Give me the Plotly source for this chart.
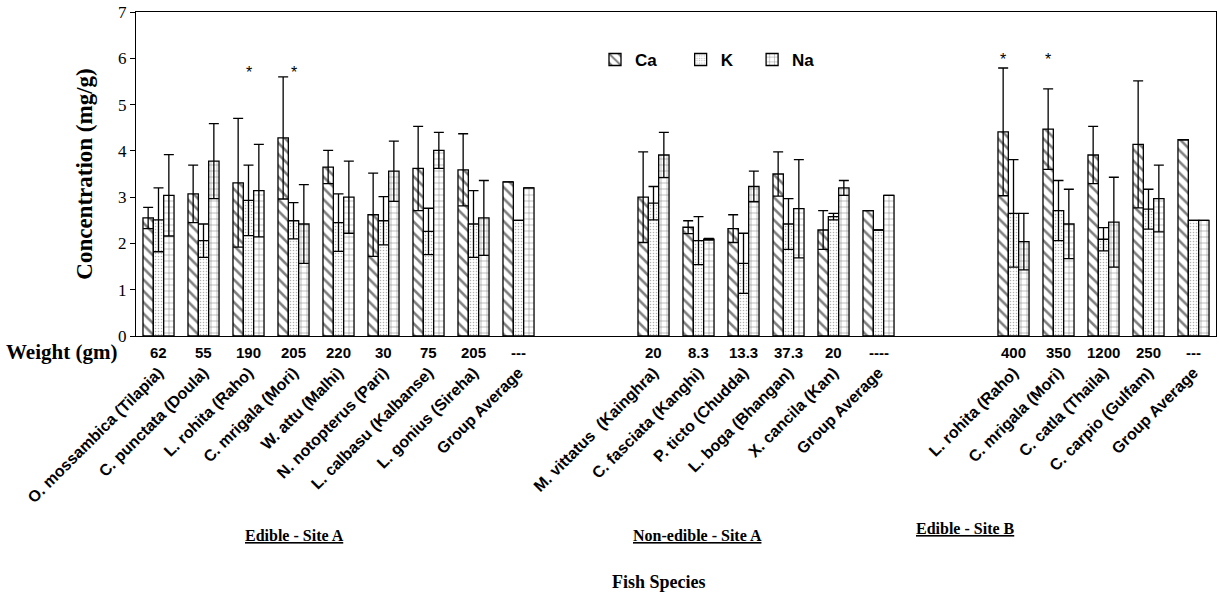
import plotly.graph_objects as go

# ---------------- data ----------------
species_A = ["O. mossambica (Tilapia)", "C. punctata (Doula)", "L. rohita (Raho)", "C. mrigala (Mori)",
             "W. attu (Malhi)", "N. notopterus (Pari)", "L. calbasu (Kalbanse)", "L. gonius (Sireha)", "Group Average"]
weight_A = ["62", "55", "190", "205", "220", "30", "75", "205", "---"]
ca_A = [2.55, 3.07, 3.31, 4.28, 3.65, 2.62, 3.62, 3.59, 3.33]
ca_A_err = [0.23, 0.62, 1.39, 1.32, 0.36, 0.90, 0.91, 0.78, 0]
k_A = [2.51, 2.06, 2.93, 2.49, 2.45, 2.49, 2.26, 2.42, 2.50]
k_A_err = [0.69, 0.36, 0.76, 0.39, 0.62, 0.52, 0.50, 0.72, 0]
na_A = [3.04, 3.78, 3.14, 2.42, 3.00, 3.56, 4.01, 2.55, 3.20]
na_A_err = [0.88, 0.81, 1.00, 0.85, 0.78, 0.65, 0.39, 0.81, 0]

species_N = ["M. vittatus  (Kainghra)", "C. fasciata (Kanghi)", "P. ticto (Chudda)", "L. boga (Bhangan)",
             "X. cancila (Kan)", "Group Average"]
weight_N = ["20", "8.3", "13.3", "37.3", "20", "----"]
ca_N = [3.00, 2.35, 2.32, 3.50, 2.29, 2.71]
ca_N_err = [0.98, 0.14, 0.30, 0.48, 0.42, 0]
k_N = [2.87, 2.06, 1.57, 2.42, 2.58, 2.29]
k_N_err = [0.36, 0.52, 0.65, 0.55, 0.07, 0]
na_N = [3.91, 2.09, 3.23, 2.75, 3.20, 3.04]
na_N_err = [0.49, 0.02, 0.33, 1.06, 0.16, 0]

species_B = ["L. rohita (Raho)", "C. mrigala (Mori)", "C. catla (Thaila)", "C. carpio (Gulfam)", "Group Average"]
weight_B = ["400", "350", "1200", "250", "---"]
ca_B = [4.41, 4.47, 3.91, 4.14, 4.24]
ca_B_err = [1.38, 0.87, 0.62, 1.37, 0]
k_B = [2.65, 2.71, 2.09, 2.74, 2.50]
k_B_err = [1.16, 0.65, 0.25, 0.43, 0]
na_B = [2.04, 2.42, 2.46, 2.97, 2.50]
na_B_err = [0.61, 0.75, 0.97, 0.72, 0]

group_titles = ["Edible - Site A", "Non-edible - Site A", "Edible - Site B"]
gap_slots = 2
# significance stars: (group, species index, element, y)
stars = [(0, 2, "K", 5.70), (0, 3, "K", 5.70), (2, 0, "Ca", 5.97), (2, 1, "Ca", 5.97)]

# ---------------- build ----------------
groups = [
    (species_A, weight_A, {"Ca": (ca_A, ca_A_err), "K": (k_A, k_A_err), "Na": (na_A, na_A_err)}),
    (species_N, weight_N, {"Ca": (ca_N, ca_N_err), "K": (k_N, k_N_err), "Na": (na_N, na_N_err)}),
    (species_B, weight_B, {"Ca": (ca_B, ca_B_err), "K": (k_B, k_B_err), "Na": (na_B, na_B_err)}),
]

xs, names, weights = [], [], []
series = {"Ca": ([], []), "K": ([], []), "Na": ([], [])}
group_x = []
pos = 0
for gi, (sp, wt, vals) in enumerate(groups):
    gx = []
    for i, s in enumerate(sp):
        xs.append(pos)
        gx.append(pos)
        names.append(s)
        weights.append(wt[i])
        for el in series:
            series[el][0].append(vals[el][0][i])
            series[el][1].append(vals[el][1][i])
        pos += 1
    group_x.append(gx)
    if gi < len(groups) - 1:
        pos += gap_slots
n_slots = pos

patterns = {
    "Ca": dict(shape="\\", fgcolor="black", bgcolor="white", size=8, solidity=0.32),
    "K": dict(shape=".", fgcolor="#666666", bgcolor="white", size=3, solidity=0.22),
    "Na": dict(shape="+", fgcolor="black", bgcolor="white", size=6, solidity=0.16),
}
legend_pad = {"Ca": 4, "K": 3, "Na": 0}

fig = go.Figure()
for el in ["Ca", "K", "Na"]:
    y, e = series[el]
    fig.add_trace(go.Bar(
        x=xs, y=y, name="<b>" + el + "</b>" + "\u00a0" * legend_pad[el],
        marker=dict(color="white", line=dict(color="black", width=1.3), pattern=patterns[el]),
        error_y=dict(type="data", array=[v if v else None for v in e], visible=True,
                     color="black", thickness=1.3, width=5),
    ))

bargap = 0.31
bar_w_px = 1080 / n_slots * (1 - bargap) / 3
el_shift = {"Ca": -bar_w_px, "K": 0, "Na": bar_w_px}

annotations = []
# weights row
for x, w in zip(xs, weights):
    annotations.append(dict(x=x, y=-0.05, xref="x", yref="paper", text="<b>" + w + "</b>",
                            showarrow=False, font=dict(family="Liberation Sans", size=15, color="black"),
                            yanchor="middle"))
annotations.append(dict(x=-0.016, y=-0.05, xref="paper", yref="paper", text="<b>Weight (gm)</b>",
                        showarrow=False, xanchor="right", yanchor="middle",
                        font=dict(family="Liberation Serif", size=21, color="black")))
# group titles (offset from the group's centre, in category slots)
title_offsets = [(-0.97, -0.615), (-1.53, -0.615), (-3.06, -0.595)]
for gi, t in enumerate(group_titles):
    gx = group_x[gi]
    cx = (gx[0] + gx[-1]) / 2 + title_offsets[gi][0]
    annotations.append(dict(x=cx, y=title_offsets[gi][1], xref="x", yref="paper", text="<b><u>" + t + "</u></b>",
                            showarrow=False, yanchor="middle",
                            font=dict(family="Liberation Serif", size=16, color="black")))
annotations.append(dict(x=0.484, y=-0.759, xref="paper", yref="paper", text="<b>Fish Species</b>",
                        showarrow=False, yanchor="middle",
                        font=dict(family="Liberation Serif", size=18, color="black")))
# stars
for gi, si, el, yv in stars:
    annotations.append(dict(x=group_x[gi][si], y=yv, xref="x", yref="y", text="*", showarrow=False,
                            xshift=el_shift[el], yanchor="middle",
                            font=dict(family="Liberation Sans", size=16, color="black")))

fig.update_layout(
    width=1219, height=600,
    margin=dict(l=136, r=3, t=12, b=264),
    paper_bgcolor="white", plot_bgcolor="white",
    barmode="group", bargap=bargap, bargroupgap=0,
    showlegend=True,
    legend=dict(orientation="h", x=0.425, y=0.852, xanchor="left", yanchor="middle",
                font=dict(family="Liberation Sans", size=17, color="black"),
                bgcolor="rgba(0,0,0,0)", traceorder="normal"),
    annotations=annotations,
)
fig.update_xaxes(
    range=[-0.5, n_slots - 0.5],
    tickmode="array", tickvals=xs, ticktext=["<b>" + s + "</b>" for s in names],
    tickangle=-45, tickfont=dict(family="Liberation Sans", size=16, color="black"),
    ticks="outside", ticklen=20, tickcolor="rgba(0,0,0,0)",
    showline=True, linecolor="black", linewidth=1.3, mirror=True, showgrid=False, zeroline=False,
)
fig.update_yaxes(
    range=[0, 7], dtick=1, ticks="outside", ticklen=5, tickcolor="black",
    tickfont=dict(family="Liberation Serif", size=17, color="black"),
    showline=True, linecolor="black", linewidth=1.3, mirror=True, showgrid=False, zeroline=False,
    title=dict(text="<b>Concentration (mg/g)</b>", font=dict(family="Liberation Serif", size=23, color="black"),
               standoff=18),
)

fig.write_html("out.html", config={"displayModeBar": False},
               post_script="document.body.style.margin='0px';")
